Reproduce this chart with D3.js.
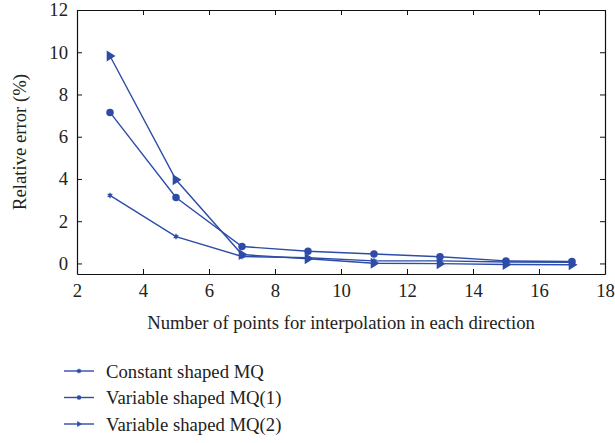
<!DOCTYPE html>
<html>
<head>
<meta charset="utf-8">
<script src="https://cdn.jsdelivr.net/npm/d3@7"></script>
<style>
  body { margin: 0; background: #fff; }
</style>
</head>
<body>
<svg id="chart" width="615" height="443"></svg>
<script>
// data
let points = [3, 5, 7, 9, 11, 13, 15, 17];
let constantMQ = [3.22, 1.27, 0.33, 0.27, 0.12, 0.12, 0.07, 0.05];
let variableMQ1 = [7.15, 3.12, 0.8, 0.58, 0.45, 0.32, 0.12, 0.09];
let variableMQ2 = [9.82, 3.96, 0.42, 0.22, 0.01, -0.01, -0.05, -0.06];
let xTicks = [2, 4, 6, 8, 10, 12, 14, 16, 18];
let yTicks = [0, 2, 4, 6, 8, 10, 12];
let seriesNames = ["Constant shaped MQ", "Variable shaped MQ(1)", "Variable shaped MQ(2)"];
let seriesMarkers = ["star", "circle", "triangle"];

let color = "#2d4ca8";
let fontFamily = "Liberation Serif";
let fontSize = 18.7;
let svg = d3.select("#chart");
let margin = { left: 77, right: 605, top: 10, bottom: 274 };

let x = d3.scaleLinear().domain([2, 18]).range([margin.left, margin.right]);
let y = d3.scaleLinear().domain([-0.5, 12]).range([margin.bottom, margin.top]);

let series = [constantMQ, variableMQ1, variableMQ2].map((vals, i) => ({
  name: seriesNames[i],
  marker: seriesMarkers[i],
  values: vals.map((v, j) => ({ x: points[j], y: v })),
}));

// axes with inward ticks, boxed
let axisStyle = (g) => {
  g.attr("font-family", fontFamily);
  g.select(".domain").attr("stroke", "#111").attr("stroke-width", 1.2);
  g.selectAll(".tick line").attr("stroke", "#111");
  g.selectAll(".tick text").attr("font-size", fontSize).attr("fill", "#222");
};

svg.append("g")
  .attr("transform", `translate(0, ${margin.bottom})`)
  .call(d3.axisBottom(x).tickValues(xTicks).tickSizeInner(-5).tickSizeOuter(0).tickPadding(10))
  .call(axisStyle);

svg.append("g")
  .attr("transform", `translate(0, ${margin.top})`)
  .call(d3.axisTop(x).tickValues(xTicks).tickSizeInner(-5).tickSizeOuter(0).tickFormat(""))
  .call(axisStyle);

svg.append("g")
  .attr("transform", `translate(${margin.left}, 0)`)
  .call(d3.axisLeft(y).tickValues(yTicks).tickSizeInner(-5).tickSizeOuter(0).tickPadding(9))
  .call(axisStyle);

svg.append("g")
  .attr("transform", `translate(${margin.right}, 0)`)
  .call(d3.axisRight(y).tickValues(yTicks).tickSizeInner(-5).tickSizeOuter(0).tickFormat(""))
  .call(axisStyle);

// axis titles
svg.append("text")
  .attr("x", (margin.left + margin.right) / 2)
  .attr("y", 329)
  .attr("text-anchor", "middle")
  .attr("font-family", fontFamily)
  .attr("font-size", fontSize)
  .attr("fill", "#222")
  .text("Number of points for interpolation in each direction");

svg.append("text")
  .attr("transform", `translate(26, ${(margin.top + margin.bottom) / 2}) rotate(-90)`)
  .attr("text-anchor", "middle")
  .attr("font-family", fontFamily)
  .attr("font-size", fontSize)
  .attr("fill", "#222")
  .text("Relative error (%)");

// markers
let drawMarker = (g, type, size) => {
  if (type === "circle") {
    g.append("circle").attr("r", size * 0.75).attr("fill", color);
  } else if (type === "triangle") {
    g.append("path")
      .attr("d", `M${-size * 0.6},${-size} L${size},0 L${-size * 0.6},${size} Z`)
      .attr("fill", color);
  } else {
    g.append("path")
      .attr("d", d3.symbol(d3.symbolAsterisk, size * size * 1.6)())
      .attr("stroke", color)
      .attr("stroke-width", 1.3)
      .attr("fill", "none");
    g.append("circle").attr("r", size * 0.45).attr("fill", color);
  }
};

let markerSize = { star: 3.6, circle: 5, triangle: 5.5 };

let line = d3.line().x((d) => x(d.x)).y((d) => y(d.y));

series.forEach((s) => {
  svg.append("path")
    .datum(s.values)
    .attr("d", line)
    .attr("fill", "none")
    .attr("stroke", color)
    .attr("stroke-width", 1.4);

  svg.append("g")
    .selectAll("g")
    .data(s.values)
    .join("g")
    .attr("transform", (d) => `translate(${x(d.x)}, ${y(d.y)})`)
    .each(function () {
      drawMarker(d3.select(this), s.marker, markerSize[s.marker]);
    });
});

// legend
let legend = svg.append("g").selectAll("g")
  .data(series)
  .join("g")
  .attr("transform", (d, i) => `translate(64, ${371 + i * 26.5})`);

legend.append("line")
  .attr("x1", 0).attr("x2", 30)
  .attr("stroke", color)
  .attr("stroke-width", 1.4);

legend.append("g")
  .attr("transform", "translate(15, 0)")
  .each(function (d) {
    drawMarker(d3.select(this), d.marker, 3);
  });

legend.append("text")
  .attr("x", 42)
  .attr("dy", "0.35em")
  .attr("font-family", fontFamily)
  .attr("font-size", fontSize)
  .attr("fill", "#222")
  .text((d) => d.name);
</script>
</body>
</html>
